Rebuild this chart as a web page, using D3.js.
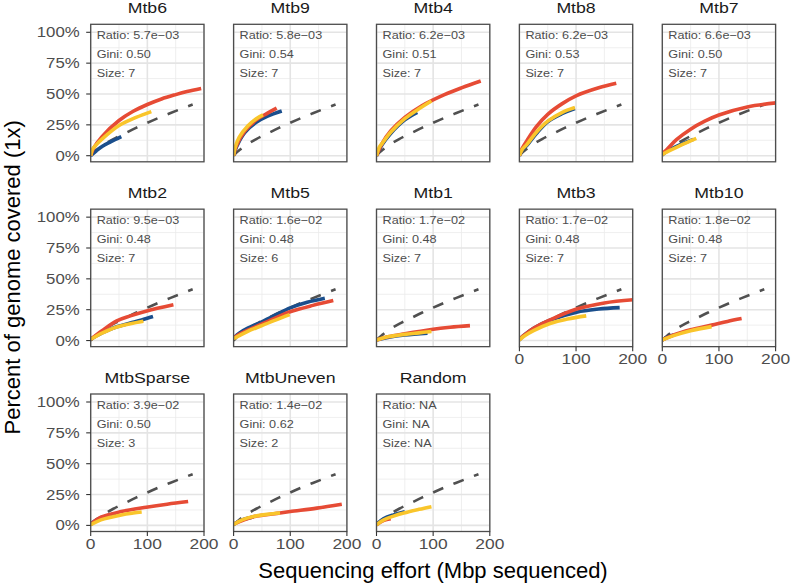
<!DOCTYPE html>
<html><head><meta charset="utf-8">
<script src="https://cdn.jsdelivr.net/npm/d3@7"></script>
<style>body{margin:0;background:#fff} text{font-family:"Liberation Sans",Arial,Helvetica,sans-serif}</style>
</head><body><svg id="c" width="791" height="587"></svg>
<script>
// ---------- data ----------
const panels = ["Mtb6","Mtb9","Mtb4","Mtb8","Mtb7","Mtb2","Mtb5","Mtb1","Mtb3","Mtb10","MtbSparse","MtbUneven","Random"];
const ratios = ["5.7e\u221203","5.8e\u221203","6.2e\u221203","6.2e\u221203","6.6e\u221203","9.5e\u221203","1.6e\u221202","1.7e\u221202","1.7e\u221202","1.8e\u221202","3.9e\u221202","1.4e\u221202","NA"];
const ginis  = ["0.50","0.54","0.51","0.53","0.50","0.48","0.48","0.48","0.48","0.48","0.50","0.62","NA"];
const sizes  = ["7","7","7","7","7","7","6","7","7","7","3","2","NA"];
const xTicks = [0,100,200];
const yTicks = [0,0.25,0.5,0.75,1];
const yTickLabels = ["0%","25%","50%","75%","100%"];
// reference (random) curve, dashed, same in every panel
const randomCurve = [[0,0],[5,0.025],[10,0.045],[20,0.08],[40,0.135],[60,0.18],[80,0.225],[100,0.267],[120,0.307],[140,0.344],[160,0.38],[180,0.415]];
// coloured series, one list of [Mbp, fraction] per panel
const blueSeries = [
 [[0,0],[10,0.04],[20,0.075],[35,0.112],[54,0.155]],
 [[0,0],[5,0.07],[20,0.19],[40,0.27],[60,0.32],[85,0.362]],
 [[0,0],[10,0.09],[25,0.18],[50,0.29],[72,0.35]],
 [[0,0],[5,0.045],[13,0.082],[30,0.18],[50,0.275],[75,0.34],[98,0.382]],
 [[0,0.01],[10,0.04],[25,0.075],[45,0.115],[55,0.132]],
 [[0,0.01],[20,0.062],[46,0.112],[70,0.142],[90,0.167],[110,0.195]],
 [[0,0.02],[10,0.06],[25,0.1],[48,0.148],[75,0.21],[100,0.265],[130,0.31],[161,0.342]],
 [[0,0.005],[20,0.025],[50,0.045],[90,0.06]],
 [[0,0.01],[10,0.05],[25,0.1],[54,0.165],[101,0.23],[140,0.255],[177,0.267]],
 [[0,0.005],[10,0.03],[20,0.045]],
 [[0,0.012],[18,0.062],[45,0.095]],
 [[0,0.01],[15,0.045],[35,0.068]],
 [[0,0.01],[13,0.055],[30,0.085],[50,0.11]]
];
const redSeries = [
 [[0,0],[5,0.06],[20,0.155],[50,0.285],[75,0.36],[100,0.415],[125,0.46],[150,0.495],[170,0.52],[195,0.545]],
 [[0,0],[5,0.08],[20,0.2],[40,0.29],[60,0.345],[76,0.385]],
 [[0,0],[10,0.1],[25,0.2],[50,0.31],[80,0.405],[120,0.495],[150,0.55],[184,0.605]],
 [[0,0],[5,0.06],[13,0.12],[30,0.235],[50,0.335],[75,0.42],[100,0.485],[140,0.55],[171,0.587]],
 [[0,0.02],[8,0.05],[25,0.13],[50,0.215],[75,0.28],[100,0.33],[150,0.395],[205,0.43]],
 [[0,0.01],[20,0.08],[46,0.16],[70,0.2],[99,0.24],[146,0.29]],
 [[0,0.02],[10,0.05],[25,0.085],[48,0.13],[75,0.185],[101,0.235],[140,0.285],[176,0.324]],
 [[0,0.005],[20,0.03],[50,0.055],[97,0.09],[130,0.108],[165,0.121]],
 [[0,0.01],[10,0.05],[25,0.1],[54,0.167],[101,0.255],[150,0.305],[205,0.332]],
 [[0,0.005],[20,0.045],[50,0.087],[87,0.125],[115,0.155],[140,0.178]],
 [[0,0.01],[18,0.066],[54,0.112],[98,0.147],[135,0.172],[172,0.193]],
 [[0,0.01],[35,0.07],[82,0.1],[100,0.112],[147,0.14],[191,0.172]],
 [[0,0.005],[13,0.04],[25,0.055]]
];
const yellowSeries = [
 [[0,0],[3,0.05],[10,0.09],[20,0.135],[50,0.245],[80,0.31],[107,0.357]],
 [[0,0],[3,0.07],[10,0.15],[25,0.24],[40,0.3],[52,0.33]],
 [[0,0],[5,0.07],[10,0.1],[25,0.19],[50,0.3],[75,0.38],[97,0.443]],
 [[0,0],[5,0.05],[13,0.09],[30,0.19],[50,0.28],[75,0.35],[98,0.39]],
 [[0,0.01],[10,0.035],[25,0.068],[45,0.11],[60,0.14]],
 [[0,0.01],[20,0.06],[46,0.11],[70,0.137],[93,0.157]],
 [[0,0.015],[10,0.04],[25,0.075],[48,0.118],[75,0.168],[99,0.21]],
 [[0,0.005],[20,0.03],[50,0.05],[75,0.062],[97,0.074]],
 [[0,0.005],[10,0.04],[25,0.08],[54,0.138],[85,0.175],[118,0.2]],
 [[0,0.005],[20,0.04],[50,0.08],[87,0.113]],
 [[0,0.005],[18,0.045],[54,0.085],[75,0.1],[90,0.108]],
 [[0,0.008],[15,0.045],[35,0.072],[60,0.09],[82,0.1]],
 [[0,0.005],[13,0.045],[30,0.075],[48,0.1],[75,0.13],[97,0.152]]
];
const colors = {blue:"#1A4E8C", red:"#E64B35", yellow:"#F9C52B", ref:"#505050"};

// ---------- layout ----------
const svg = d3.select("#c");
const nCol = 5;
const left0 = 90.7, colStep = 142.9, pw = 113.3;
const top0 = 24.3, rowStep = 184.85, ph = 137.5;

function txt(g, x, y, s, o) {
  return g.append("text")
    .attr("transform", `translate(${x},${y}) scale(${o.sx||1},1)`)
    .attr("text-anchor", o.anchor || "start")
    .attr("font-size", o.size)
    .attr("font-weight", "normal")
    .attr("fill", o.fill || "#000")
    .text(s);
}

const line = d3.line().curve(d3.curveCatmullRom.alpha(0.5));
const defs = svg.append("defs");

panels.forEach((name, i) => {
  const col = i % nCol, row = Math.floor(i / nCol);
  const L = left0 + col * colStep, T = top0 + row * rowStep;
  const x = d3.scaleLinear().domain([0,200]).range([L, L + pw]);
  const y = d3.scaleLinear().domain([0,1]).range([T + 131.4, T + 8]);
  const g = svg.append("g");
  defs.append("clipPath").attr("id", "clip"+i).append("rect")
    .attr("x", L).attr("y", T).attr("width", pw).attr("height", ph);

  // grid
  [0.125,0.375,0.625,0.875].forEach(v => g.append("line").attr("x1",L).attr("x2",L+pw)
    .attr("y1",y(v)).attr("y2",y(v)).attr("stroke","#ebebeb").attr("stroke-width",0.8));
  [50,150].forEach(v => g.append("line").attr("y1",T).attr("y2",T+ph)
    .attr("x1",x(v)).attr("x2",x(v)).attr("stroke","#ebebeb").attr("stroke-width",0.8));
  yTicks.forEach(v => g.append("line").attr("x1",L).attr("x2",L+pw)
    .attr("y1",y(v)).attr("y2",y(v)).attr("stroke","#e4e4e4").attr("stroke-width",1.6));
  xTicks.forEach(v => g.append("line").attr("y1",T).attr("y2",T+ph)
    .attr("x1",x(v)).attr("x2",x(v)).attr("stroke","#e4e4e4").attr("stroke-width",1.6));

  // strip title
  txt(svg, L + pw/2, T - 11, name, {size:15, sx:1.18, anchor:"middle", fill:"#1a1a1a"});

  // annotation
  const ann = ["Ratio: " + ratios[i], "Gini: " + ginis[i], "Size: " + sizes[i]];
  ann.forEach((s, k) => txt(g, L + 6, T + 15 + k*19, s, {size:11.5, sx:1.1, fill:"#4d4d4d"}));

  // curves
  const cg = g.append("g").attr("clip-path", `url(#clip${i})`);
  const toPx = pts => pts.map(p => [x(p[0]), y(p[1])]);
  cg.append("path").attr("d", line(toPx(randomCurve))).attr("fill","none")
    .attr("stroke", colors.ref).attr("stroke-width", 2.6).attr("stroke-dasharray","11,11");
  [["blue", blueSeries],["red", redSeries],["yellow", yellowSeries]].forEach(([c, arr]) => {
    cg.append("path").attr("d", line(toPx(arr[i]))).attr("fill","none")
      .attr("stroke", colors[c]).attr("stroke-width", 3.6).attr("stroke-linecap","butt");
  });

  // border
  g.append("rect").attr("x",L).attr("y",T).attr("width",pw).attr("height",ph)
    .attr("fill","none").attr("stroke","#4d4d4d").attr("stroke-width",1.3);

  // y axis on first column
  if (col === 0) {
    yTicks.forEach((v, k) => {
      g.append("line").attr("x1",L-4.5).attr("x2",L).attr("y1",y(v)).attr("y2",y(v))
        .attr("stroke","#333").attr("stroke-width",1.1);
      txt(g, L - 11, y(v) + 5, yTickLabels[k], {size:14, sx:1.2, anchor:"end", fill:"#4d4d4d"});
    });
  }
  // x axis where no panel below
  if (i + nCol >= panels.length) {
    xTicks.forEach(v => {
      g.append("line").attr("x1",x(v)).attr("x2",x(v)).attr("y1",T+ph).attr("y2",T+ph+4.5)
        .attr("stroke","#333").attr("stroke-width",1.1);
      txt(g, x(v), T + ph + 17.5, String(v), {size:14.5, sx:1.2, anchor:"middle", fill:"#4d4d4d"});
    });
  }
});

// axis titles
txt(svg, 433, 578, "Sequencing effort (Mbp sequenced)", {size:22, sx:1.0, anchor:"middle", fill:"#000"});
svg.append("text").attr("transform","translate(19.5,277.3) rotate(-90)")
  .attr("text-anchor","middle").attr("font-size",22).attr("fill","#000")
  .text("Percent of genome covered (1x)");
</script></body></html>
